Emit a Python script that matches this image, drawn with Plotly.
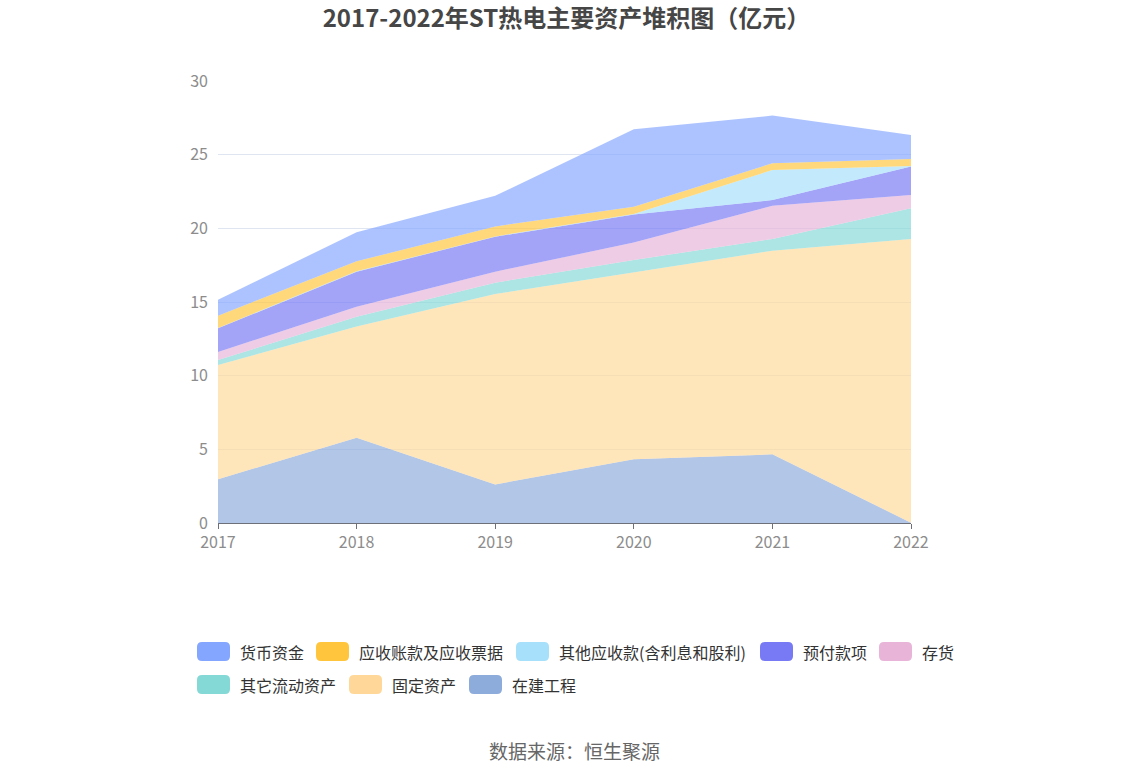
import plotly.graph_objects as go

# ---------------- data (亿元) ----------------
years = [2017, 2018, 2019, 2020, 2021, 2022]
series_names = ["货币资金", "应收账款及应收票据", "其他应收款(含利息和股利)", "预付款项",
                "存货", "其它流动资产", "固定资产", "在建工程"]
cash = [1.09, 1.97, 2.08, 5.25, 3.24, 1.63]
receivables = [0.84, 0.68, 0.68, 0.50, 0.45, 0.48]
other_receivables = [0.02, 0.02, 0.02, 0.03, 2.04, 0.04]
prepayments = [1.60, 2.38, 2.37, 1.91, 0.38, 1.93]
inventory = [0.55, 0.68, 0.75, 1.18, 2.26, 0.90]
other_current = [0.34, 0.67, 0.77, 0.83, 0.80, 2.08]
fixed_assets = [7.75, 7.54, 12.92, 12.70, 13.82, 19.26]
construction = [2.97, 5.79, 2.62, 4.32, 4.66, 0.02]
y_ticks = [0, 5, 10, 15, 20, 25, 30]

# ---------------- styles ----------------
colors = ["#84A6FF", "#FFC53D", "#A6E0FA", "#7879F5", "#E8B4D8", "#84D8D6", "#FFD899", "#8DACDB"]
FONT = "Noto Sans CJK SC"

def rgba(hex_color, a):
    h = hex_color.lstrip("#")
    r, g, b = int(h[0:2], 16), int(h[2:4], 16), int(h[4:6], 16)
    return f"rgba({r},{g},{b},{a})"

values = [cash, receivables, other_receivables, prepayments, inventory,
          other_current, fixed_assets, construction]

fig = go.Figure()
# stack bottom-up
for name, vals, col in reversed(list(zip(series_names, values, colors))):
    fig.add_trace(go.Scatter(
        x=years, y=vals, name=name, mode="lines",
        stackgroup="one", line=dict(width=0, color=col),
        fillcolor=rgba(col, 0.68), showlegend=False,
        hovertemplate="%{x}: %{y}<extra>" + name + "</extra>",
    ))

W, H = 1148, 776
# plot area in page pixels
L, R, T, B = 218, 911, 81, 523

def px_x(px):
    return (px - L) / (R - L)

def px_y(py):
    return (B - py) / (B - T)

def rounded_rect(x0, y0, x1, y1, r=5):
    pts = [
        f"M {px_x(x0 + r)},{px_y(y0)}",
        f"L {px_x(x1 - r)},{px_y(y0)}",
        f"Q {px_x(x1)},{px_y(y0)} {px_x(x1)},{px_y(y0 + r)}",
        f"L {px_x(x1)},{px_y(y1 - r)}",
        f"Q {px_x(x1)},{px_y(y1)} {px_x(x1 - r)},{px_y(y1)}",
        f"L {px_x(x0 + r)},{px_y(y1)}",
        f"Q {px_x(x0)},{px_y(y1)} {px_x(x0)},{px_y(y1 - r)}",
        f"L {px_x(x0)},{px_y(y0 + r)}",
        f"Q {px_x(x0)},{px_y(y0)} {px_x(x0 + r)},{px_y(y0)}",
        "Z",
    ]
    return " ".join(pts)

# legend layout (pixel positions of icons: x, center y)
legend_pos = [(197, 651.5), (316, 651.5), (516, 651.5), (760, 651.5), (879, 651.5),
              (197, 684.5), (349, 684.5), (469, 684.5)]
shapes = []
annotations = []
for (ix, cy), name, col in zip(legend_pos, series_names, colors):
    shapes.append(dict(type="path", xref="paper", yref="paper",
                       path=rounded_rect(ix, cy - 9.5, ix + 33, cy + 9.5, 5),
                       fillcolor=col, line=dict(width=0), layer="above"))
    annotations.append(dict(x=px_x(ix + 41), y=px_y(cy), xref="paper", yref="paper",
                            text=name, showarrow=False, xanchor="left", yanchor="middle",
                            font=dict(family=FONT, size=16, color="#333333")))

annotations.append(dict(x=px_x(574), y=px_y(750), xref="paper", yref="paper",
                        text="数据来源：恒生聚源", showarrow=False,
                        xanchor="center", yanchor="middle",
                        font=dict(family=FONT, size=19, color="#666666")))

fig.update_layout(
    width=W, height=H,
    margin=dict(l=L, r=W - R, t=T, b=H - B),
    paper_bgcolor="white", plot_bgcolor="white",
    title=dict(text="<b>2017-2022年ST热电主要资产堆积图（亿元）</b>",
               x=566.5 / W, xanchor="center", y=1 - 19 / H, yanchor="middle",
               xref="container", yref="container",
               font=dict(family=FONT, size=24, color="#464646")),
    font=dict(family=FONT),
    showlegend=False,
    shapes=shapes,
    annotations=annotations,
    xaxis=dict(range=[2017, 2022], tickvals=years, ticktext=[str(y) for y in years],
               showgrid=False, zeroline=False, showline=True, linecolor="#6E7079",
               linewidth=1, ticks="outside", ticklen=5, tickcolor="#6E7079",
               tickfont=dict(family=FONT, size=16, color="#8C8C8C")),
    yaxis=dict(range=[0, 30], tickvals=y_ticks, showgrid=True, gridcolor="#E0E6F1",
               gridwidth=1, zeroline=False, showline=False, ticks="",
               ticklabelstandoff=9,
               tickfont=dict(family=FONT, size=16, color="#8C8C8C")),
)

# remove the browser's default body margin so the figure fills the window exactly
fig.write_html("out.html",
               config={"displayModeBar": False},
               post_script="document.body.style.margin='0';document.body.style.overflow='hidden';")
